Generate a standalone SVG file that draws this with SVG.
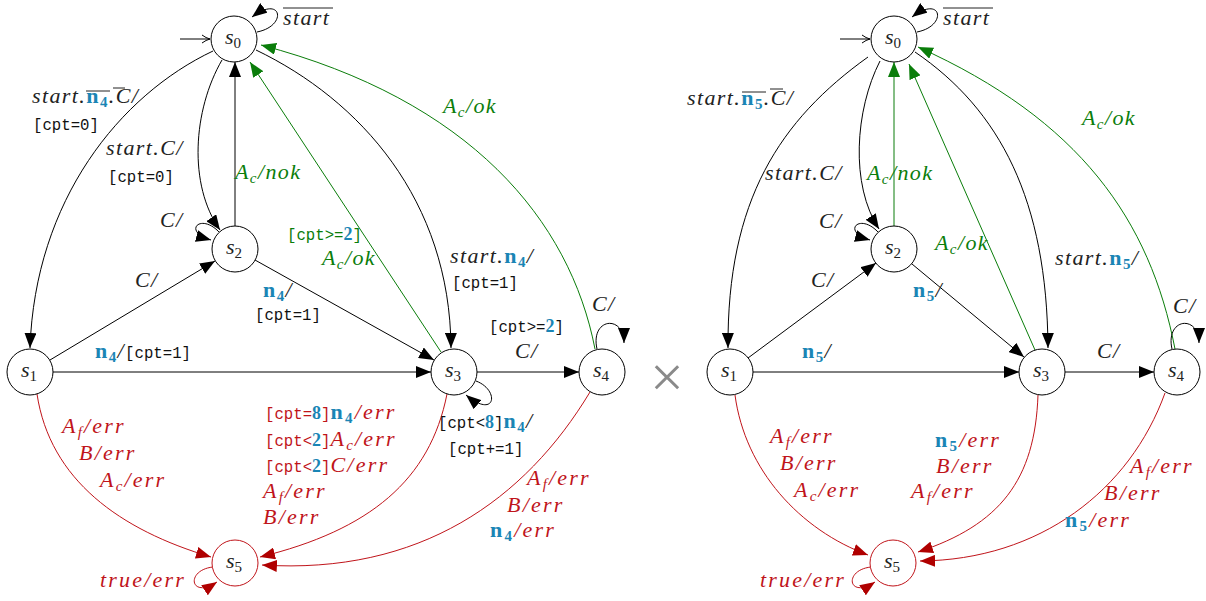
<svg xmlns="http://www.w3.org/2000/svg" width="1206" height="601" viewBox="0 0 1206 601">
<defs>
<style>
.n{fill:#fff;stroke:#000;stroke-width:1}
.nr{fill:#fff;stroke:#c0141a;stroke-width:1}
.e{fill:none;stroke:#000;stroke-width:1;marker-end:url(#ak)}
.eg{fill:none;stroke:#0a7d0a;stroke-width:1;marker-end:url(#ag)}
.er{fill:none;stroke:#c0141a;stroke-width:1;marker-end:url(#ar)}
.ei{fill:none;stroke:#000;stroke-width:1;marker-end:url(#ai)}
.m{font-family:"Liberation Serif",serif;font-style:italic;font-size:22px;letter-spacing:1.4px;fill:#222}
.m.r{letter-spacing:2.2px}
.t{font-family:"Liberation Mono",monospace;font-style:normal;font-size:15.7px;letter-spacing:0;fill:#111}
.g{fill:#0a7d0a}
.r{fill:#c0141a}
.bn{font-family:"Liberation Serif",serif;font-style:normal;font-weight:bold;fill:#1a85b5}
.s{font-size:15px}
.u{font-style:normal}
.nl{font-family:"Liberation Serif",serif;font-style:italic;font-size:22px;fill:#222}
.ol{stroke:#222;stroke-width:1}
</style>
<marker id="ak" viewBox="0 0 15 12" refX="15" refY="6" markerWidth="15" markerHeight="12" markerUnits="userSpaceOnUse" orient="auto"><path d="M0,0 L15,6 L0,12 Z" fill="#000"/></marker>
<marker id="ag" viewBox="0 0 15 12" refX="15" refY="6" markerWidth="15" markerHeight="12" markerUnits="userSpaceOnUse" orient="auto"><path d="M0,0 L15,6 L0,12 Z" fill="#0a7d0a"/></marker>
<marker id="ar" viewBox="0 0 15 12" refX="15" refY="6" markerWidth="15" markerHeight="12" markerUnits="userSpaceOnUse" orient="auto"><path d="M0,0 L15,6 L0,12 Z" fill="#b00000"/></marker>
<marker id="ai" viewBox="-1 -5 10 10" refX="8" refY="0" markerWidth="10" markerHeight="10" markerUnits="userSpaceOnUse" orient="auto"><path d="M0,-4 Q4,-1 8,0 Q4,1 0,4" fill="none" stroke="#000" stroke-width="1"/></marker>
</defs>
<rect width="1206" height="601" fill="#fff"/>

<g id="connectors">
<!-- left automaton -->
<path class="ei" d="M180,39 L210,39"/>
<path class="e" d="M257,32 C288,26 282,-6 252,17"/>
<path class="e" d="M213,51 C120,95 35,200 30,348"/>
<path class="e" d="M222,60 C193,110 188,185 220,230"/>
<path class="e" d="M235,226 L235,62"/>
<path class="e" d="M219,232 C200,212 182,232 211,240"/>
<path class="e" d="M50,360 L215,261"/>
<path class="e" d="M255,260 L434,360"/>
<path class="e" d="M53,372 L431,372"/>
<path class="eg" d="M441,352 L250,62"/>
<path class="e" d="M256,50 C360,100 450,200 451,348"/>
<path class="eg" d="M595,349 C570,220 470,100 261,45"/>
<path class="e" d="M477,372 L579,372"/>
<path class="e" d="M597,349 C590,318 624,314 624,343"/>
<path class="e" d="M476,381 C500,390 496,420 466,395"/>
<path class="er" d="M447,394 C430,480 370,530 260,557"/>
<path class="er" d="M590,392 C525,500 420,575 262,565"/>
<path class="er" d="M37,394 C50,480 120,530 211,557"/>
<path class="er" d="M213,567 C185,570 190,600 217,582"/>
<!-- right automaton -->
<path class="ei" d="M840,39 L870,39"/>
<path class="e" d="M917,32 C948,26 942,-6 912,17"/>
<path class="e" d="M868,57 C780,120 727,200 728,348"/>
<path class="e" d="M880,61 C855,110 850,185 879,229"/>
<path class="eg" d="M894,226 L894,62"/>
<path class="e" d="M878,232 C859,212 841,232 870,240"/>
<path class="e" d="M748,358 L876,263"/>
<path class="e" d="M912,264 L1024,357"/>
<path class="e" d="M753,372 L1019,372"/>
<path class="eg" d="M1035,350 L909,64"/>
<path class="e" d="M915,52 C1000,110 1047,200 1048,348"/>
<path class="eg" d="M1175,349 C1150,220 1080,120 918,47"/>
<path class="e" d="M1065,372 L1154,372"/>
<path class="e" d="M1172,349 C1165,318 1199,314 1199,343"/>
<path class="er" d="M735,395 C745,470 800,530 868,555"/>
<path class="er" d="M1038,395 C1035,480 1000,525 918,552"/>
<path class="er" d="M1165,393 C1130,490 1040,560 920,561"/>
<path class="er" d="M871,567 C843,570 848,600 875,582"/>
</g>

<!-- left nodes -->
<g id="L-s0"><circle class="n" cx="234" cy="39" r="23"/><text class="nl" x="233" y="44" text-anchor="middle">s<tspan class="s u" dy="4">0</tspan></text></g>
<g id="L-s1"><circle class="n" cx="30" cy="372" r="23"/><text class="nl" x="29" y="377" text-anchor="middle">s<tspan class="s u" dy="4">1</tspan></text></g>
<g id="L-s2"><circle class="n" cx="235" cy="249" r="23"/><text class="nl" x="234" y="254" text-anchor="middle">s<tspan class="s u" dy="4">2</tspan></text></g>
<g id="L-s3"><circle class="n" cx="454" cy="372" r="23"/><text class="nl" x="453" y="377" text-anchor="middle">s<tspan class="s u" dy="4">3</tspan></text></g>
<g id="L-s4"><circle class="n" cx="602" cy="372" r="23"/><text class="nl" x="601" y="377" text-anchor="middle">s<tspan class="s u" dy="4">4</tspan></text></g>
<g id="L-s5"><circle class="nr" cx="235" cy="563" r="23"/><text class="nl r" x="234" y="568" text-anchor="middle">s<tspan class="s u" dy="4">5</tspan></text></g>

<!-- right nodes -->
<g id="R-s0"><circle class="n" cx="894" cy="39" r="23"/><text class="nl" x="893" y="44" text-anchor="middle">s<tspan class="s u" dy="4">0</tspan></text></g>
<g id="R-s1"><circle class="n" cx="730" cy="372" r="23"/><text class="nl" x="729" y="377" text-anchor="middle">s<tspan class="s u" dy="4">1</tspan></text></g>
<g id="R-s2"><circle class="n" cx="894" cy="249" r="23"/><text class="nl" x="893" y="254" text-anchor="middle">s<tspan class="s u" dy="4">2</tspan></text></g>
<g id="R-s3"><circle class="n" cx="1042" cy="372" r="23"/><text class="nl" x="1041" y="377" text-anchor="middle">s<tspan class="s u" dy="4">3</tspan></text></g>
<g id="R-s4"><circle class="n" cx="1177" cy="372" r="23"/><text class="nl" x="1176" y="377" text-anchor="middle">s<tspan class="s u" dy="4">4</tspan></text></g>
<g id="R-s5"><circle class="nr" cx="893" cy="563" r="23"/><text class="nl r" x="892" y="568" text-anchor="middle">s<tspan class="s u" dy="4">5</tspan></text></g>

<g id="labels-left">
<text class="m" x="283" y="25">start</text><line class="ol" x1="283" y1="8" x2="333" y2="8"/>
<text class="m" x="32" y="103">start.<tspan class="bn">n</tspan><tspan class="bn s" dy="4">4</tspan><tspan dy="-4">.C/</tspan></text>
<line class="ol" x1="86" y1="91" x2="110" y2="91"/><line class="ol" x1="113" y1="88" x2="125" y2="88"/>
<text class="t" x="33" y="130">[cpt=0]</text>
<text class="m" x="106" y="155">start.C/</text>
<text class="t" x="108" y="182">[cpt=0]</text>
<text class="m g" x="235" y="179">A<tspan class="s" dy="4">c</tspan><tspan dy="-4">/nok</tspan></text>
<text class="m" x="160" y="227">C/</text>
<text class="t g" x="287" y="240">[cpt&gt;=<tspan class="bn" font-size="18">2</tspan>]</text>
<text class="m g" x="322" y="265">A<tspan class="s" dy="4">c</tspan><tspan dy="-4">/ok</tspan></text>
<text class="m" x="263" y="297"><tspan class="bn">n</tspan><tspan class="bn s" dy="4">4</tspan><tspan dy="-4">/</tspan></text>
<text class="t" x="255" y="320">[cpt=1]</text>
<text class="m" x="135" y="287">C/</text>
<text class="m" x="95" y="358"><tspan class="bn">n</tspan><tspan class="bn s" dy="4">4</tspan><tspan dy="-4">/</tspan><tspan class="t">[cpt=1]</tspan></text>
<text class="m" x="450" y="263">start.<tspan class="bn">n</tspan><tspan class="bn s" dy="4">4</tspan><tspan dy="-4">/</tspan></text>
<text class="t" x="452" y="288">[cpt=1]</text>
<text class="m g" x="443" y="113">A<tspan class="s" dy="4">c</tspan><tspan dy="-4">/ok</tspan></text>
<text class="t" x="489" y="332">[cpt&gt;=<tspan class="bn" font-size="18">2</tspan>]</text>
<text class="m" x="515" y="358">C/</text>
<text class="m" x="592" y="311">C/</text>
<text class="m" x="438" y="428"><tspan class="t">[cpt&lt;<tspan class="bn" font-size="18">8</tspan>]</tspan><tspan class="bn">n</tspan><tspan class="bn s" dy="4">4</tspan><tspan dy="-4">/</tspan></text>
<text class="t" x="448" y="454">[cpt+=1]</text>
<text class="m r" x="265" y="419"><tspan class="t r">[cpt=<tspan class="bn" font-size="18">8</tspan>]</tspan><tspan class="bn">n</tspan><tspan class="bn s" dy="4">4</tspan><tspan dy="-4">/err</tspan></text>
<text class="m r" x="265" y="446"><tspan class="t r">[cpt&lt;<tspan class="bn" font-size="18">2</tspan>]</tspan>A<tspan class="s" dy="4">c</tspan><tspan dy="-4">/err</tspan></text>
<text class="m r" x="265" y="472"><tspan class="t r">[cpt&lt;<tspan class="bn" font-size="18">2</tspan>]</tspan>C/err</text>
<text class="m r" x="263" y="498">A<tspan class="s" dy="4">f</tspan><tspan dy="-4">/err</tspan></text>
<text class="m r" x="263" y="524">B/err</text>
<text class="m r" x="527" y="485">A<tspan class="s" dy="4">f</tspan><tspan dy="-4">/err</tspan></text>
<text class="m r" x="507" y="512">B/err</text>
<text class="m r" x="490" y="537"><tspan class="bn">n</tspan><tspan class="bn s" dy="4">4</tspan><tspan dy="-4">/err</tspan></text>
<text class="m r" x="62" y="433">A<tspan class="s" dy="4">f</tspan><tspan dy="-4">/err</tspan></text>
<text class="m r" x="79" y="460">B/err</text>
<text class="m r" x="100" y="487">A<tspan class="s" dy="4">c</tspan><tspan dy="-4">/err</tspan></text>
<text class="m r" x="100" y="587">true/err</text>
</g>

<text id="times" x="667" y="397" text-anchor="middle" font-family="Liberation Serif, serif" font-size="60" fill="#8a8a8a">×</text>

<g id="labels-right">
<text class="m" x="943" y="25">start</text><line class="ol" x1="943" y1="8" x2="993" y2="8"/>
<text class="m" x="687" y="105">start.<tspan class="bn">n</tspan><tspan class="bn s" dy="4">5</tspan><tspan dy="-4">.C/</tspan></text>
<line class="ol" x1="742" y1="92" x2="766" y2="92"/><line class="ol" x1="770" y1="89" x2="783" y2="89"/>
<text class="m" x="765" y="180">start.C/</text>
<text class="m g" x="867" y="180">A<tspan class="s" dy="4">c</tspan><tspan dy="-4">/nok</tspan></text>
<text class="m" x="819" y="228">C/</text>
<text class="m" x="811" y="287">C/</text>
<text class="m" x="913" y="297"><tspan class="bn">n</tspan><tspan class="bn s" dy="4">5</tspan><tspan dy="-4">/</tspan></text>
<text class="m g" x="935" y="250">A<tspan class="s" dy="4">c</tspan><tspan dy="-4">/ok</tspan></text>
<text class="m" x="1055" y="265">start.<tspan class="bn">n</tspan><tspan class="bn s" dy="4">5</tspan><tspan dy="-4">/</tspan></text>
<text class="m g" x="1082" y="125">A<tspan class="s" dy="4">c</tspan><tspan dy="-4">/ok</tspan></text>
<text class="m" x="1173" y="313">C/</text>
<text class="m" x="802" y="358"><tspan class="bn">n</tspan><tspan class="bn s" dy="4">5</tspan><tspan dy="-4">/</tspan></text>
<text class="m" x="1097" y="358">C/</text>
<text class="m r" x="770" y="443">A<tspan class="s" dy="4">f</tspan><tspan dy="-4">/err</tspan></text>
<text class="m r" x="780" y="470">B/err</text>
<text class="m r" x="794" y="497">A<tspan class="s" dy="4">c</tspan><tspan dy="-4">/err</tspan></text>
<text class="m r" x="935" y="447"><tspan class="bn">n</tspan><tspan class="bn s" dy="4">5</tspan><tspan dy="-4">/err</tspan></text>
<text class="m r" x="936" y="473">B/err</text>
<text class="m r" x="911" y="498">A<tspan class="s" dy="4">f</tspan><tspan dy="-4">/err</tspan></text>
<text class="m r" x="1130" y="473">A<tspan class="s" dy="4">f</tspan><tspan dy="-4">/err</tspan></text>
<text class="m r" x="1104" y="500">B/err</text>
<text class="m r" x="1065" y="527"><tspan class="bn">n</tspan><tspan class="bn s" dy="4">5</tspan><tspan dy="-4">/err</tspan></text>
<text class="m r" x="760" y="587">true/err</text>
</g>
</svg>
